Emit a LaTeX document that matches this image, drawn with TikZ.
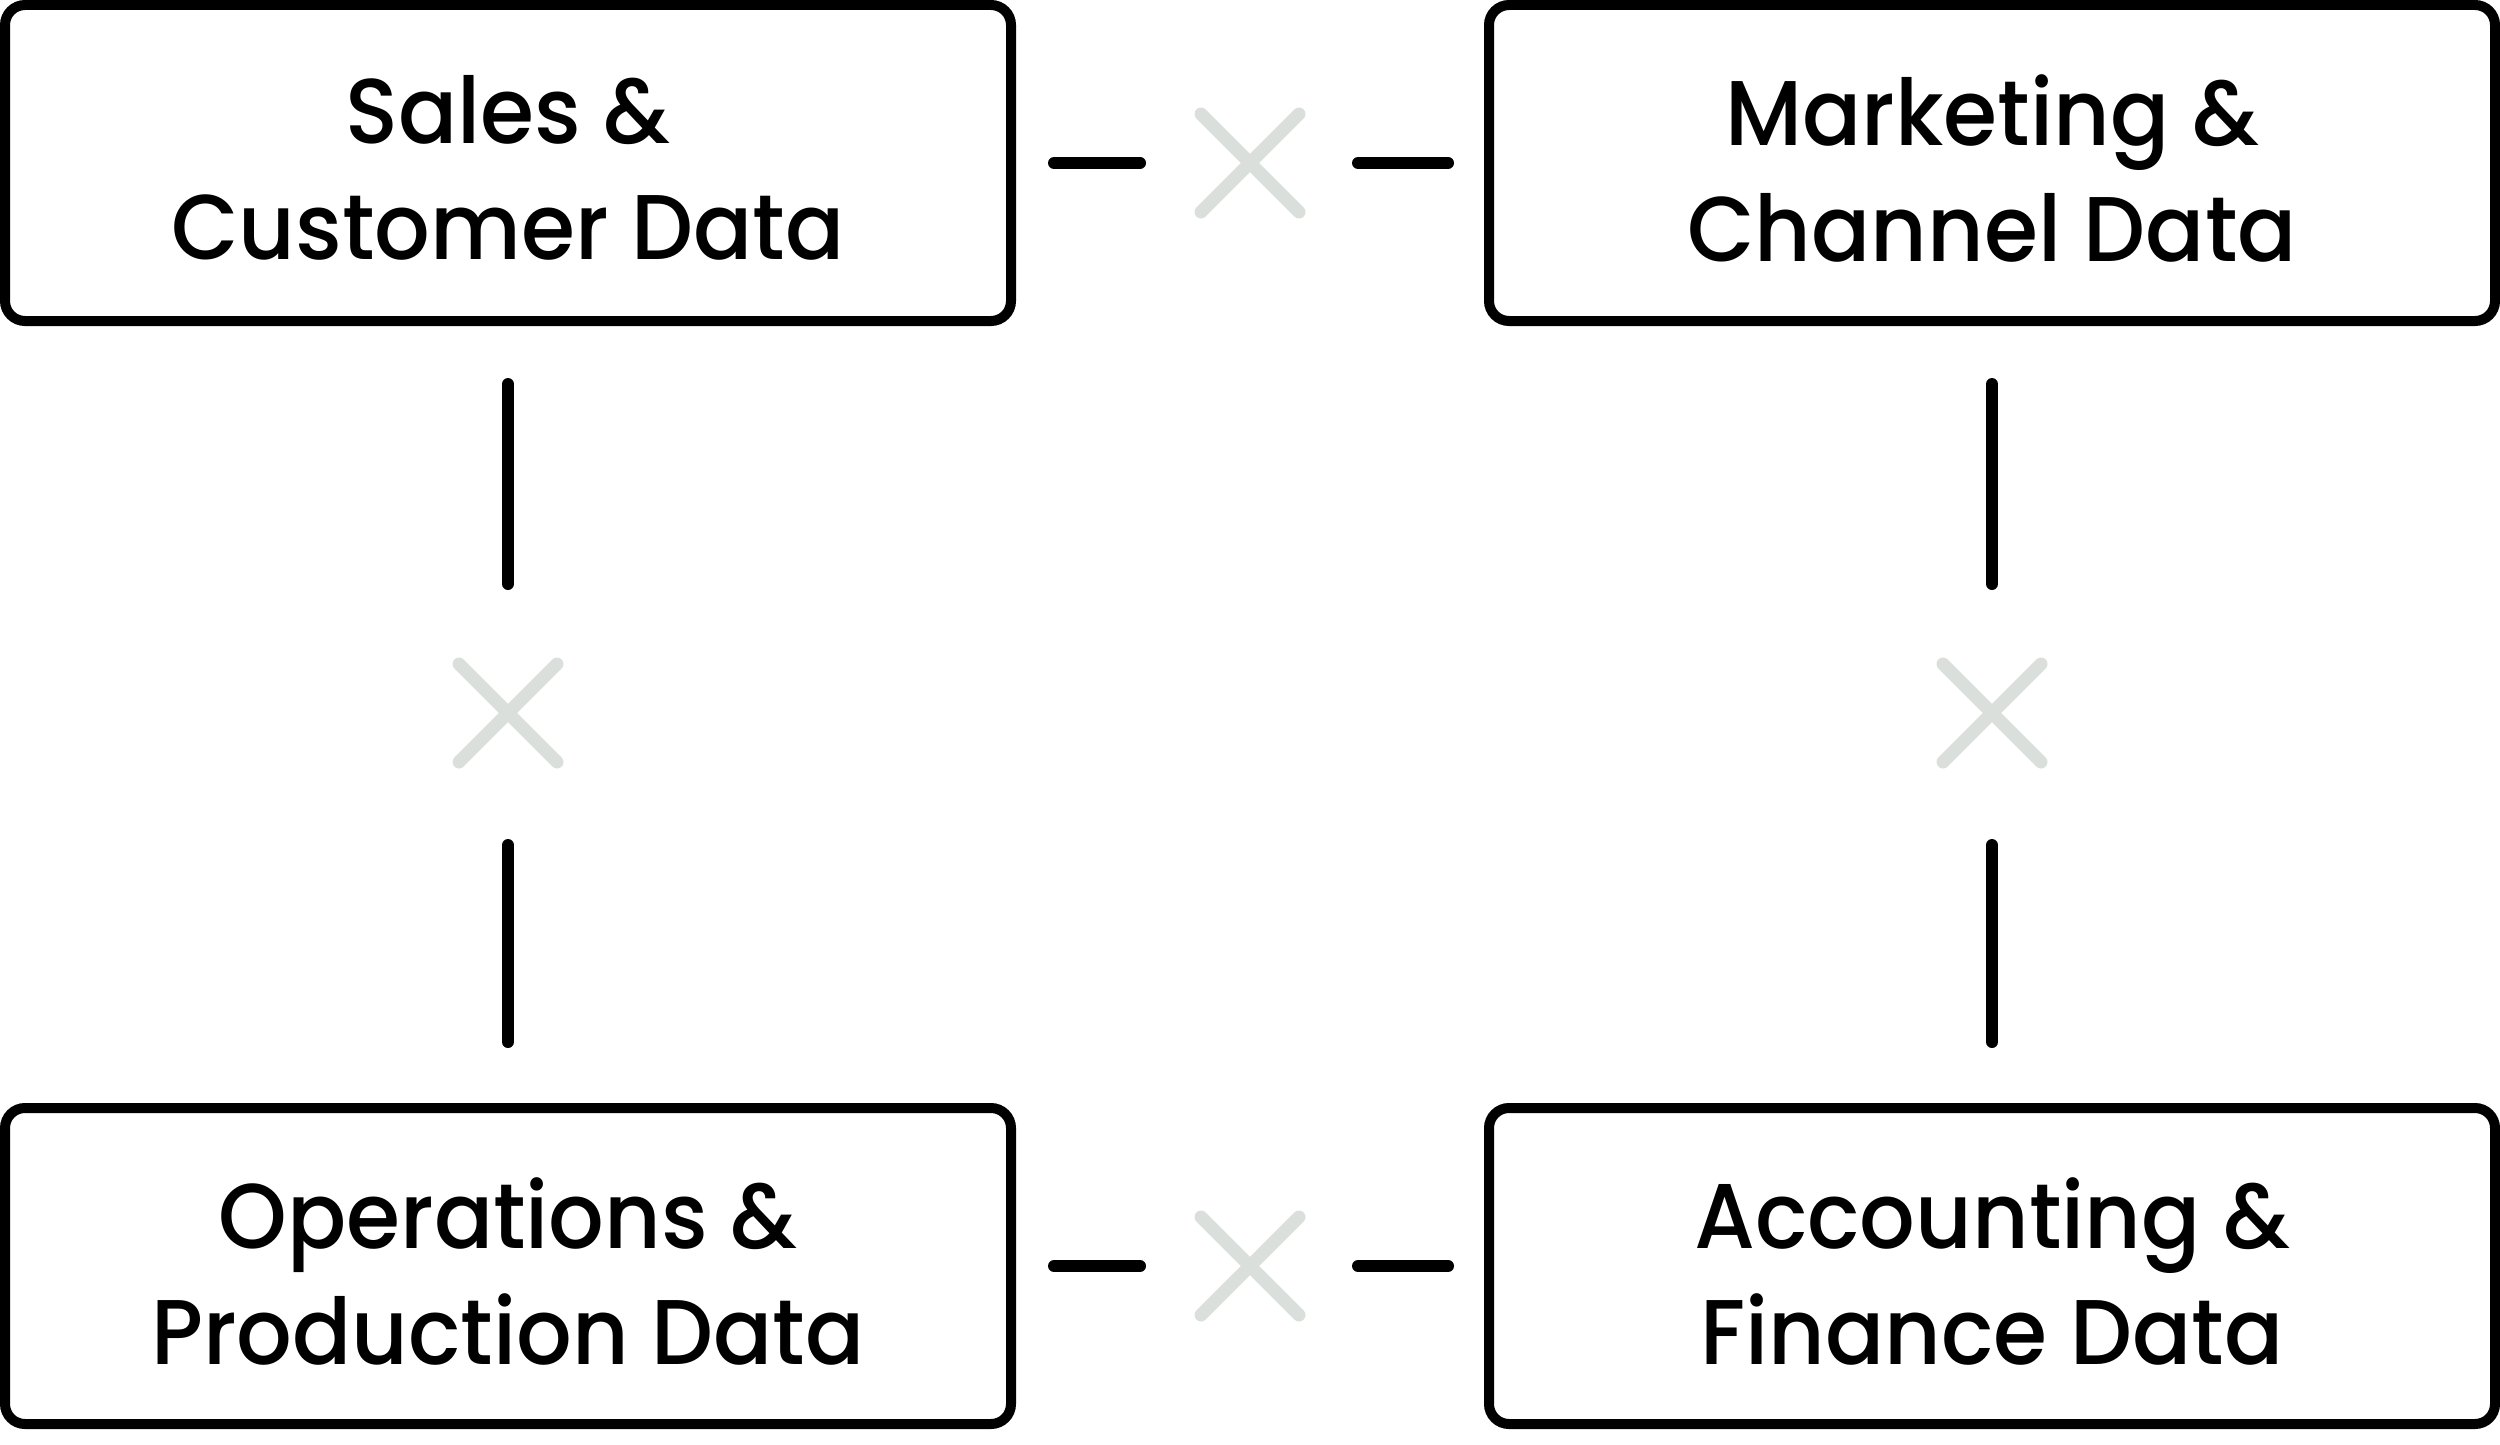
\documentclass[tikz,border=0pt]{standalone}
\usepackage{fontspec}
\setmainfont{Poppins Medium}[FakeStretch=0.95]
\usetikzlibrary{calc}
\definecolor{xgray}{HTML}{DADFDB}
\begin{document}
\begin{tikzpicture}[x=1pt,y=-1pt,
  databox/.style={draw=black, line width=10pt, rounded corners=20pt,
    minimum width=1006pt, minimum height=316pt, inner sep=0pt},
  boxtext/.style={align=center, inner sep=0pt, font=\fontsize{92}{116}\selectfont},
  seg/.style={line width=12pt, line cap=round, black},
  cross/.style={line width=13pt, line cap=round, xgray}]
\useasboundingbox (0,0) rectangle (2500,1445);
\node[databox] (sales) at (508,163) {};
\node[databox] (mkt) at (1992,163) {};
\node[databox] (ops) at (508,1266) {};
\node[databox] (acc) at (1992,1266) {};
\node[boxtext] (salesT) at ($(sales.center)+(0,5)$) {Sales \&\\Customer Data};
\node[boxtext] (mktT) at ($(mkt.center)+(0,5)$) {Marketing \&\\Channel Data};
\node[boxtext] (opsT) at ($(ops.center)+(0,5)$) {Operations \&\\Production Data};
\node[boxtext] (accT) at ($(acc.center)+(0,5)$) {Accounting \&\\Finance Data};
% crosses
\coordinate (xt) at (1250,163);
\coordinate (xb) at (1250,1266);
\coordinate (xl) at (508,713);
\coordinate (xr) at (1992,713);
\foreach \c in {xt,xb,xl,xr}{
  \draw[cross] ($(\c)+(-49,-49)$) -- ($(\c)+(49,49)$);
  \draw[cross] ($(\c)+(-49,49)$) -- ($(\c)+(49,-49)$);
}
% horizontal connectors
\draw[seg] ($(sales.east)+(38,0)$) -- ($(xt)+(-110,0)$);
\draw[seg] ($(xt)+(108,0)$) -- ($(mkt.west)+(-36,0)$);
\draw[seg] ($(ops.east)+(38,0)$) -- ($(xb)+(-110,0)$);
\draw[seg] ($(xb)+(108,0)$) -- ($(acc.west)+(-36,0)$);
% vertical connectors
\draw[seg] ($(sales.south)+(0,58)$) -- ($(xl)+(0,-129)$);
\draw[seg] ($(xl)+(0,132)$) -- ($(ops.north)+(0,-61)$);
\draw[seg] ($(mkt.south)+(0,58)$) -- ($(xr)+(0,-129)$);
\draw[seg] ($(xr)+(0,132)$) -- ($(acc.north)+(0,-61)$);
\end{tikzpicture}
\end{document}
